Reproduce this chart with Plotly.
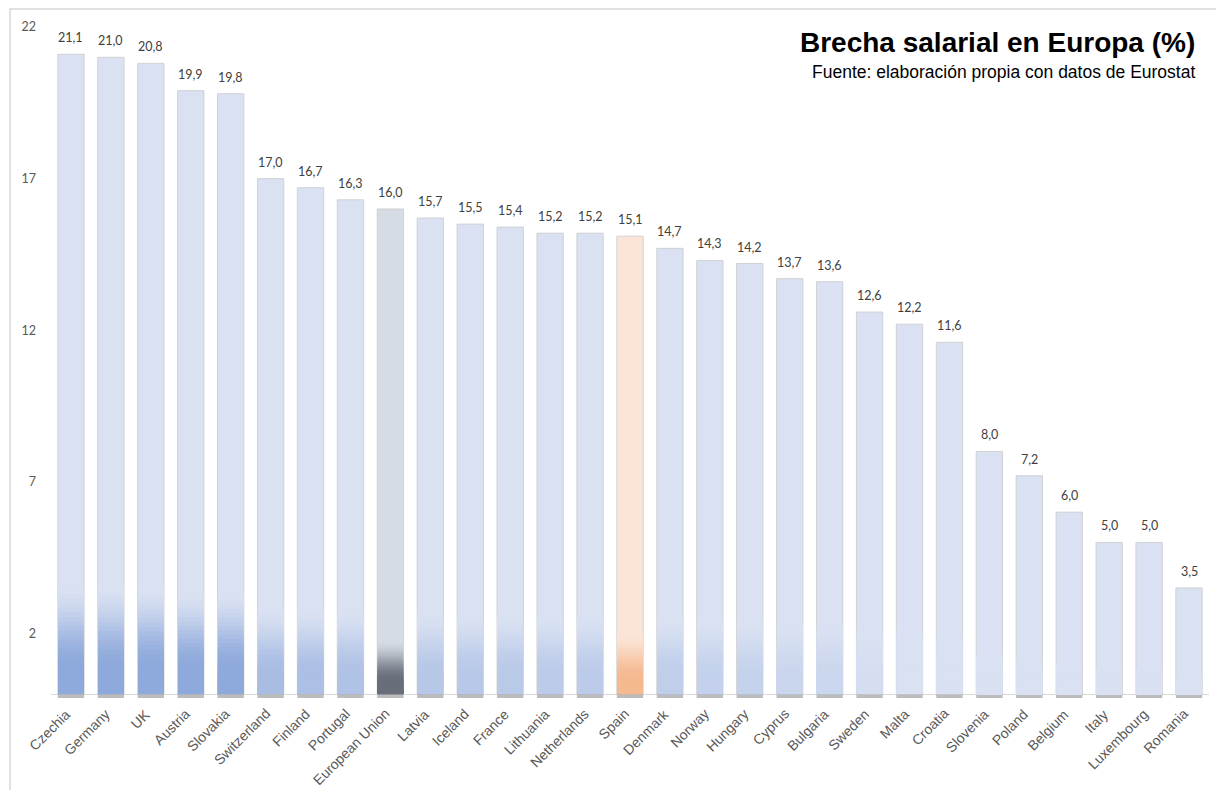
import plotly.graph_objects as go

countries = ["Czechia", "Germany", "UK", "Austria", "Slovakia", "Switzerland", "Finland",
             "Portugal", "European Union", "Latvia", "Iceland", "France", "Lithuania",
             "Netherlands", "Spain", "Denmark", "Norway", "Hungary", "Cyprus", "Bulgaria",
             "Sweden", "Malta", "Croatia", "Slovenia", "Poland", "Belgium", "Italy",
             "Luxembourg", "Romania"]
values = [21.1, 21.0, 20.8, 19.9, 19.8, 17.0, 16.7, 16.3, 16.0, 15.7, 15.5, 15.4, 15.2,
          15.2, 15.1, 14.7, 14.3, 14.2, 13.7, 13.6, 12.6, 12.2, 11.6, 8.0, 7.2, 6.0, 5.0,
          5.0, 3.5]
y_ticks = [-3, 2, 7, 12, 17, 22]
title = "Brecha salarial en Europa (%)"
subtitle = "Fuente: elaboración propia con datos de Eurostat"

# --- styling -------------------------------------------------------------
PAL = {
    "blue": ((217, 225, 242), (142, 169, 219)),
    "eu": ((214, 220, 228), (104, 111, 122)),
    "es": ((251, 229, 214), (244, 180, 136)),
}
KIND = {"European Union": "eu", "Spain": "es"}
N_SEG = 24
BAR_W = 0.66
SHADOW = 0.13
LABEL_ANGLE = -45


def rgb(c):
    return "rgb(%d,%d,%d)" % tuple(int(round(x)) for x in c)


def mix(a, b, t):
    return tuple(a[i] + (b[i] - a[i]) * t for i in range(3))


kinds = [KIND.get(c, "blue") for c in countries]
tops = [PAL[k][0] for k in kinds]
bots = [PAL[k][1] for k in kinds]
dark = []
zone = []
for k, v in zip(kinds, values):
    if k == "eu":
        dark.append(1.0); zone.append(1.8)
    elif k == "es":
        dark.append(0.9); zone.append(2.0)
    else:
        dark.append(max(0.0, min(1.0, (v - 12.2) / 7.5))); zone.append(0.17 * v)

fig = go.Figure()

# soft shadow under the bars
fig.add_trace(go.Bar(x=countries, y=[SHADOW] * len(countries), base=[-SHADOW] * len(countries),
                     width=BAR_W, marker=dict(color="rgba(80,80,80,0.38)", line=dict(width=0)),
                     hoverinfo="skip", showlegend=False))

# main bars
fig.add_trace(go.Bar(x=countries, y=values, width=BAR_W,
                     marker=dict(color=[rgb(t) for t in tops],
                                 line=dict(color="rgba(205,205,205,0.85)", width=1)),
                     showlegend=False))

# gradient near the bottom of each bar (nested layers, lightest first)
for s in range(N_SEG):
    heights, cols = [], []
    for i, v in enumerate(values):
        z = zone[i]
        top_h = z * (N_SEG - s) / N_SEG
        hm = z * (N_SEG - s - 0.5) / N_SEG
        t = max(0.0, min(1.0, (1 - hm / z) / 0.75))
        t = t * t * (3 - 2 * t)
        heights.append(top_h)
        cols.append(rgb(mix(tops[i], bots[i], dark[i] * t)))
    fig.add_trace(go.Bar(x=countries, y=heights, width=BAR_W - 0.02,
                         marker=dict(color=cols, line=dict(width=0)),
                         hoverinfo="skip", showlegend=False))

# value labels
for c, v in zip(countries, values):
    fig.add_annotation(x=c, y=v, text=("%.1f" % v).replace(".", ","), showarrow=False,
                       yanchor="bottom", yshift=7,
                       font=dict(family="Lato", size=12.5, color="#404040"))

# category labels, rotated just below the zero line
for c in countries:
    fig.add_annotation(x=c, y=0, text=c, showarrow=False, textangle=LABEL_ANGLE,
                       xanchor="right", yanchor="top", xshift=5, yshift=-9,
                       font=dict(family="Liberation Sans", size=14, color="#595959"))

fig.add_annotation(xref="paper", yref="paper", x=1.0, y=1.0, xanchor="right", yanchor="top",
                   xshift=-12, yshift=2, text="<b>%s</b>" % title, showarrow=False,
                   font=dict(family="Liberation Sans", size=28, color="#000000"))
fig.add_annotation(xref="paper", yref="paper", x=1.0, y=1.0, xanchor="right", yanchor="top",
                   xshift=-12, yshift=-33, text=subtitle, showarrow=False,
                   font=dict(family="Liberation Sans", size=17.5, color="#000000"))

# chart frame
fig.add_shape(type="rect", xref="paper", yref="paper",
              x0=-0.0354, x1=1.03, y0=-0.05, y1=1.0237,
              line=dict(color="#D9D9D9", width=1.5), layer="below")

fig.update_layout(
    width=1208, height=782,
    margin=dict(l=43, r=7, t=19, b=5),
    barmode="overlay",
    bargap=0.34,
    plot_bgcolor="white", paper_bgcolor="white",
    separators=",.",
    xaxis=dict(showline=False, showgrid=False, ticks="", showticklabels=False,
               range=[-0.5, len(countries) - 0.5], fixedrange=True),
    yaxis=dict(range=[-3, 22], tickvals=y_ticks, ticktext=[str(t) for t in y_ticks],
               showgrid=False, showline=False, zeroline=True, zerolinecolor="#D9D9D9",
               zerolinewidth=1, ticks="", ticklabelstandoff=14,
               tickfont=dict(family="Lato", size=12.5, color="#595959")),
)

fig.write_html("out.html")
